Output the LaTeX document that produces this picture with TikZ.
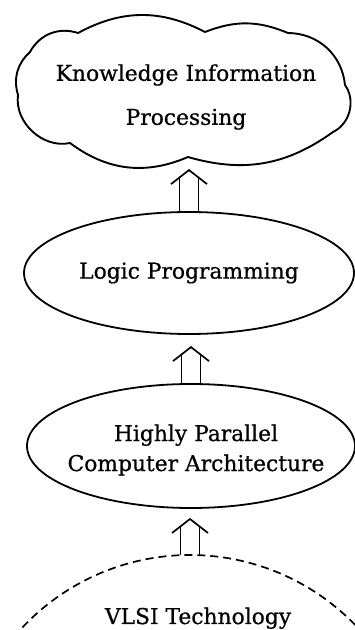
\documentclass[tikz,border=0pt]{standalone}
\usepackage{fontspec}
\setmainfont{DejaVu Serif}
\newfontfamily\lblfont{DejaVu Serif}[FakeBold=0.7]
\usetikzlibrary{shapes.geometric}
\newcommand\hollowup[2]{%
  \draw[harrow] (#1) ++(-9.5,0) -- ++(0,{#2-7.4});
  \draw[harrow] (#1) ++(9.5,0) -- ++(0,{#2-7.4});
  \draw[harrow] (#1) ++(-18,{#2-14}) -- ++(18,14) -- ++(18,-14);}
\begin{document}
\begin{tikzpicture}[x=1pt,y=1pt,line width=1.8pt,
  lbl/.style={font=\lblfont\fontsize{21.8}{30}\selectfont,align=center,inner sep=0pt},
  oval/.style={draw,ellipse,inner sep=0pt},
  cloudline/.style={line width=1.9pt,line join=round},
  harrow/.style={line width=1.7pt,line join=miter},
  vlsiarc/.style={line width=1.7pt,dash pattern=on 8pt off 5pt}]
\useasboundingbox (0,0) rectangle (355,630);
\clip (0,0) rectangle (355,630);
% cloud
\draw[cloudline] (30,578) to[bend left=40] (78,597) to[bend left=28] (205,598)
  to[bend left=22] (288,597) to[bend left=42] (345,545) to[bend left=50] (333,498)
  to[bend left=26] (188,473) coordinate (cloudbottom) to[bend left=30] (70,487)
  to[bend left=55] (18,535) to[bend left=32] (30,578) -- cycle;
\node[lbl] (kip) at (186,533) {Knowledge Information\\[14pt]Processing};
% ellipses
\node[oval,minimum width=330pt,minimum height=122pt] (lp) at (189,357) {};
\node[lbl] (lpt) at (lp.center) {Logic Programming};
\node[oval,minimum width=328pt,minimum height=124pt] (hp) at (191,184) {};
\node[lbl] (hpt) at (196,180) {Highly Parallel\\Computer Architecture};
% VLSI arc
\draw[vlsiarc] (190,-155) ++(140:230) arc[start angle=140,end angle=40,radius=230];
\coordinate (arctop) at (190,75);
\node[lbl,anchor=base] (vlsi) at (198,6) {VLSI Technology};
% arrows
\hollowup{lp.north}{41}
\hollowup{hp.north}{36}
\hollowup{arctop}{36}
\end{tikzpicture}
\end{document}
